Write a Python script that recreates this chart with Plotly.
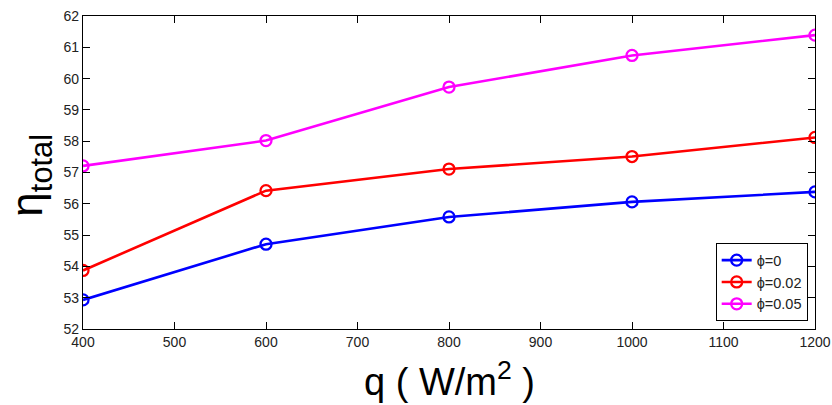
import plotly.graph_objects as go

# Heat flux (W/m^2) and total efficiency for each nanoparticle fraction
q = [400, 600, 800, 1000, 1200]
eta_phi0 = [52.93, 54.71, 55.58, 56.06, 56.38]
eta_phi002 = [53.87, 56.42, 57.11, 57.51, 58.12]
eta_phi005 = [57.21, 58.02, 59.73, 60.74, 61.39]

series_names = ["\u03d5=0", "\u03d5=0.02", "\u03d5=0.05"]
series_colors = ["#0000ff", "#ff0000", "#ff00ff"]
x_ticks = [400, 500, 600, 700, 800, 900, 1000, 1100, 1200]
y_ticks = [52, 53, 54, 55, 56, 57, 58, 59, 60, 61, 62]

FONT = "Liberation Sans, Arial, sans-serif"

fig = go.Figure()
for name, ys, color in zip(series_names, [eta_phi0, eta_phi002, eta_phi005], series_colors):
    fig.add_trace(go.Scatter(
        x=q, y=ys, name=name, mode="lines+markers",
        line=dict(color=color, width=2.6),
        marker=dict(symbol="circle-open", size=11, color=color,
                    line=dict(width=2.3, color=color)),
    ))

axis_common = dict(
    showline=True, linecolor="black", linewidth=1.3, mirror="ticks",
    ticks="inside", ticklen=7, tickwidth=1.2, tickcolor="black",
    showgrid=False, zeroline=False, automargin=False,
    tickfont=dict(family=FONT, size=14, color="#222"),
)

fig.update_layout(
    template="none",
    width=832, height=405,
    margin=dict(l=83, r=17, t=16, b=76),
    paper_bgcolor="white", plot_bgcolor="white",
    font=dict(family=FONT, color="black"),
    xaxis=dict(range=[400, 1200], tickvals=x_ticks, **axis_common),
    yaxis=dict(range=[52, 62], tickvals=y_ticks, **axis_common),
    legend=dict(
        x=0.99, y=0.025, xanchor="right", yanchor="bottom",
        bgcolor="white", bordercolor="black", borderwidth=1,
        font=dict(family=FONT, size=14.5, color="#222"),
        tracegroupgap=0, itemwidth=30,
    ),
    showlegend=True,
)

# Axis titles
fig.add_annotation(
    text="q ( W/m<sup>2</sup> )", xref="paper", yref="paper",
    x=0.5, y=0, xanchor="center", yanchor="middle", yshift=-50,
    showarrow=False, font=dict(family=FONT, size=38, color="black"),
)
fig.add_annotation(
    text="\u03b7<sub>total</sub>", xref="paper", yref="paper",
    x=0, y=0.49, xanchor="center", yanchor="middle", xshift=-53,
    textangle=-90, showarrow=False,
    font=dict(family=FONT, size=44, color="black"),
)

fig.write_html("out.html")
